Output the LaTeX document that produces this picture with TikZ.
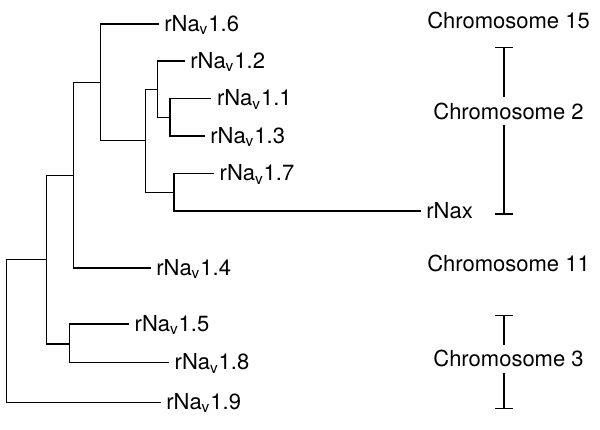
\documentclass[tikz,border=0pt]{standalone}
\usepackage{fontspec}
\setmainfont{TeX Gyre Heros}
\begin{document}
\begin{tikzpicture}[x=0.5pt,y=-0.5pt,
  branch/.style={line width=0.75pt, line cap=rect},
  leaflabel/.style={anchor=base west, inner sep=0pt, xshift=3pt, yshift=-3.6pt, font=\fontsize{11pt}{13pt}\selectfont},
  chrom/.style={anchor=base, inner xsep=0pt, inner ysep=2.7pt, text height=8pt, text depth=0pt, font=\fontsize{11pt}{13pt}\selectfont},
  bracket/.style={line width=0.75pt}]
\useasboundingbox (0,0) rectangle (600,429);
% internal nodes
\coordinate (R) at (6.7,330);
\coordinate (F) at (46.7,259.3);
\coordinate (G) at (73.3,175.7);
\coordinate (A) at (100.7,82.7);
\coordinate (B) at (145.7,140.7);
\coordinate (C) at (157.3,89.3);
\coordinate (D) at (170,117.3);
\coordinate (E) at (174,192.7);
\coordinate (H) at (69.3,344);
% leaves
\coordinate (l16) at (158,24);
\coordinate (l12) at (184,61);
\coordinate (l11) at (210.7,98.7);
\coordinate (l13) at (204,136);
\coordinate (l17) at (213.3,173.7);
\coordinate (lx) at (420,211);
\coordinate (l14) at (150,268);
\coordinate (l15) at (128.3,324);
\coordinate (l18) at (168.3,362.7);
\coordinate (l19) at (160,402.3);
% branches
\draw[branch] (R) |- (F);
\draw[branch] (R) |- (l19);
\draw[branch] (F) |- (G);
\draw[branch] (F) |- (H);
\draw[branch] (G) |- (A);
\draw[branch] (G) |- (l14);
\draw[branch] (A) |- (l16);
\draw[branch] (A) |- (B);
\draw[branch] (B) |- (C);
\draw[branch] (B) |- (E);
\draw[branch] (C) |- (l12);
\draw[branch] (C) |- (D);
\draw[branch] (D) |- (l11);
\draw[branch] (D) |- (l13);
\draw[branch] (E) |- (l17);
\draw[branch] (E) |- (lx);
\draw[branch] (H) |- (l15);
\draw[branch] (H) |- (l18);
% leaf labels
\node[leaflabel] (n16) at (l16) {rNa\textsubscript{v}1.6};
\node[leaflabel] (n12) at (l12) {rNa\textsubscript{v}1.2};
\node[leaflabel] (n11) at (l11) {rNa\textsubscript{v}1.1};
\node[leaflabel] (n13) at (l13) {rNa\textsubscript{v}1.3};
\node[leaflabel] (n17) at (l17) {rNa\textsubscript{v}1.7};
\node[leaflabel] (nx) at (lx) {rNax};
\node[leaflabel] (n14) at (l14) {rNa\textsubscript{v}1.4};
\node[leaflabel] (n15) at (l15) {rNa\textsubscript{v}1.5};
\node[leaflabel] (n18) at (l18) {rNa\textsubscript{v}1.8};
\node[leaflabel] (n19) at (l19) {rNa\textsubscript{v}1.9};
% chromosome labels
\node[chrom] (c15) at (508.5,28.5) {Chromosome 15};
\node[chrom] (c2) at (508.5,119) {Chromosome 2};
\node[chrom] (c11) at (508.5,271) {Chromosome 11};
\node[chrom] (c3) at (508.5,366.7) {Chromosome 3};
% brackets
\coordinate (t2) at (504,47.7);
\coordinate (b2) at (504,214);
\coordinate (t3) at (504,315.7);
\coordinate (b3) at (504,408.3);
\draw[bracket] (t2) -- (t2 |- c2.north);
\draw[bracket] (t2 |- c2.south) -- (b2);
\draw[bracket] ([xshift=-4.4pt]t2) -- ([xshift=4.4pt]t2);
\draw[bracket] ([xshift=-4.4pt]b2) -- ([xshift=4.4pt]b2);
\draw[bracket] (t3) -- (t3 |- c3.north);
\draw[bracket] (t3 |- c3.south) -- (b3);
\draw[bracket] ([xshift=-4.4pt]t3) -- ([xshift=4.4pt]t3);
\draw[bracket] ([xshift=-4.4pt]b3) -- ([xshift=4.4pt]b3);
\end{tikzpicture}
\end{document}
